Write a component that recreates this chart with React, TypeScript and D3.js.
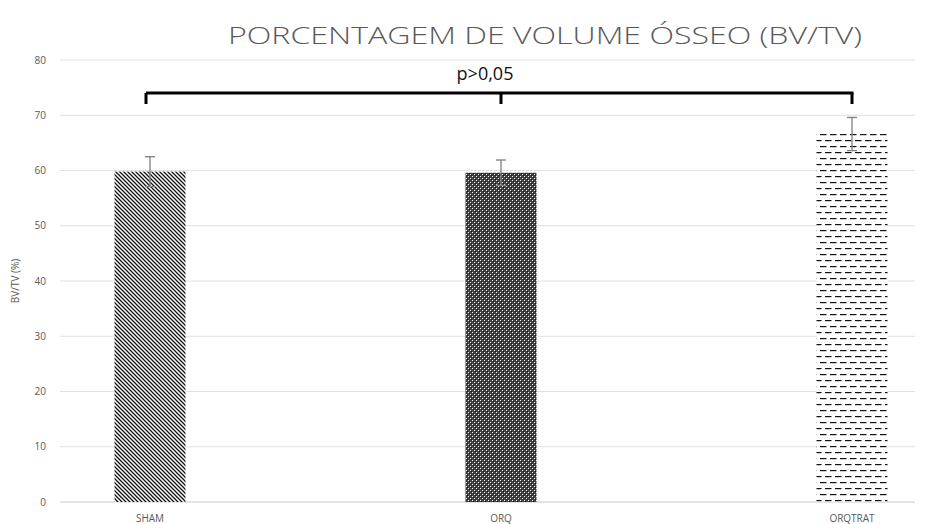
import React from "react";
import * as d3 from "d3";

const categories = ["SHAM", "ORQ", "ORQTRAT"];
const means = [59.8, 59.6, 66.6];
const errors = [2.7, 2.3, 3.0];
const yTicks = [0, 10, 20, 30, 40, 50, 60, 70, 80];
const title = "PORCENTAGEM DE VOLUME ÓSSEO (BV/TV)";
const yLabel = "BV/TV (%)";
const sigLabel = "p>0,05";
const patternIds = ["hatch-diag", "hatch-grid", "hatch-dash"];

const W = 930;
const H = 524;

export default function App() {
  const y = d3.scaleLinear().domain([0, 80]).range([502, 60]);
  const x = d3.scalePoint<string>().domain(categories).range([150, 852]);
  const barW = 71;
  const gridLeft = 60;
  const gridRight = 915;
  const grey = "#595959";
  const font = "'Open Sans', 'Noto Sans', sans-serif";

  const bracketY = 93;
  const bracketDrop = 11;
  const xs = categories.map((c) => x(c) as number);

  return (
    <svg
      width={W}
      height={H}
      style={{ position: "absolute", left: 0, top: 0, background: "#fff" }}
    >
      <defs>
        <pattern id="hatch-diag" width="4" height="4" patternUnits="userSpaceOnUse">
          <rect width="4" height="4" fill="#fff" />
          <path d="M-1,-1 L5,5 M-1,3 L1,5 M3,-1 L5,1" stroke="#111" strokeWidth="1.3" />
        </pattern>
        <pattern id="hatch-grid" width="4" height="4" patternUnits="userSpaceOnUse">
          <rect width="4" height="4" fill="#444" />
          <rect x="0" y="0" width="1" height="1" fill="#f0f0f0" />
          <rect x="2" y="2" width="1" height="1" fill="#f0f0f0" />
          <rect x="1" y="1" width="1" height="1" fill="#151515" />
          <rect x="3" y="3" width="1" height="1" fill="#151515" />
        </pattern>
        <pattern id="hatch-dash" width="10" height="12" patternUnits="userSpaceOnUse">
          <rect width="10" height="12" fill="#fff" />
          <rect x="0" y="2" width="6.5" height="1.2" fill="#111" />
          <rect x="5" y="8" width="6.5" height="1.2" fill="#111" />
          <rect x="-5" y="8" width="6.5" height="1.2" fill="#111" />
        </pattern>
      </defs>

      {/* grid */}
      {yTicks.map((t) => (
        <g key={t}>
          <line
            x1={gridLeft}
            x2={gridRight}
            y1={y(t)}
            y2={y(t)}
            stroke={t === 0 ? "#c8c8c8" : "#e0e0e0"}
            strokeWidth={1}
          />
          <text
            x={46}
            y={y(t)}
            dy="0.35em"
            textAnchor="end"
            fontSize={10}
            fontFamily={font}
            fill={grey}
          >
            {t}
          </text>
        </g>
      ))}

      {/* bars */}
      {categories.map((c, i) => (
        <rect
          key={c}
          x={(x(c) as number) - barW / 2}
          y={y(means[i])}
          width={barW}
          height={y(0) - y(means[i])}
          fill={`url(#${patternIds[i]})`}
        />
      ))}

      {/* error bars */}
      {categories.map((c, i) => {
        const cx = x(c) as number;
        const top = y(means[i] + errors[i]);
        const bot = y(means[i] - errors[i]);
        return (
          <g key={c} stroke="#7f7f7f" strokeWidth={1.3}>
            <line x1={cx} x2={cx} y1={top} y2={bot} />
            <line x1={cx - 5} x2={cx + 5} y1={top} y2={top} />
            <line x1={cx - 5} x2={cx + 5} y1={bot} y2={bot} />
          </g>
        );
      })}

      {/* category labels */}
      {categories.map((c) => (
        <text
          key={c}
          x={x(c) as number}
          y={522}
          textAnchor="middle"
          fontSize={10}
          fontFamily={font}
          fill={grey}
        >
          {c}
        </text>
      ))}

      {/* y axis title */}
      <text
        transform={`translate(19,${y(40)}) rotate(-90)`}
        textAnchor="middle"
        fontSize={10}
        fontFamily={font}
        fill={grey}
      >
        {yLabel}
      </text>

      {/* significance bracket */}
      <g stroke="#000" strokeWidth={3} fill="none">
        <line x1={xs[0] - 4} x2={xs[2] + 1.5} y1={bracketY} y2={bracketY} />
        {xs.map((v, i) => (
          <line
            key={i}
            x1={i === 0 ? v - 4 : v}
            x2={i === 0 ? v - 4 : v}
            y1={bracketY}
            y2={bracketY + bracketDrop}
          />
        ))}
      </g>
      <text
        x={485}
        y={80}
        textAnchor="middle"
        fontSize={18}
        fontFamily={font}
        fill="#111"
      >
        {sigLabel}
      </text>

      {/* title */}
      <text
        x={545}
        y={44}
        textAnchor="middle"
        fontSize={24}
        fontWeight={300}
        fontFamily={font}
        fill={grey}
        textLength={634}
        lengthAdjust="spacingAndGlyphs"
      >
        {title}
      </text>
    </svg>
  );
}
